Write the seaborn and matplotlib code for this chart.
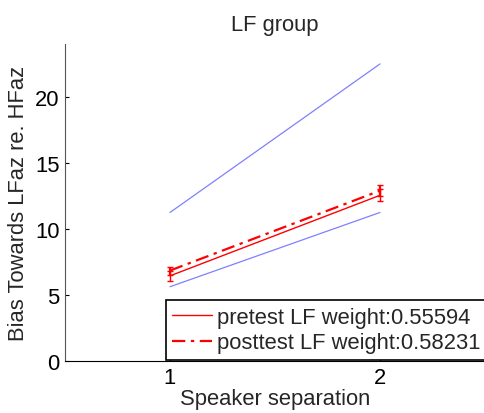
import numpy as np
import matplotlib
matplotlib.use("Agg")
import matplotlib.pyplot as plt
import seaborn as sns

# speaker separation conditions
separation = [1, 2]

# reference lines (upper and lower bound)
upper_ref = [11.25, 22.5]
lower_ref = [5.625, 11.25]

# group means and errors
pre_mean = [6.45, 12.55]
pre_err = [0.40, 0.45]
post_mean = [6.85, 12.90]
post_err = [0.30, 0.40]

pre_label = "pretest LF weight:0.55594"
post_label = "posttest LF weight:0.58231"

sns.set_style("white")
plt.rcParams['font.family'] = ['Liberation Sans', 'DejaVu Sans']
fs = 15.8

fig = plt.figure(figsize=(4.85, 4.14), dpi=100)
ax = fig.add_axes([0.134, 0.1256, 0.866, 0.7654])

ref_blue = (0.5, 0.5, 1.0)
sns.lineplot(x=separation, y=upper_ref, ax=ax, color=ref_blue, lw=0.9)
sns.lineplot(x=separation, y=lower_ref, ax=ax, color=ref_blue, lw=0.9)

pre = ax.errorbar(separation, pre_mean, yerr=pre_err, color='red', lw=1.0,
                  ls='-', capsize=2, elinewidth=1.0, label=pre_label)
post = ax.errorbar(separation, post_mean, yerr=post_err, color='red', lw=1.6,
                   ls=(0, (6, 2.5, 1.5, 2.5)), capsize=2, elinewidth=1.6,
                   label=post_label)

ax.set_xlim(0.5, 2.5)
ax.set_ylim(0, 24)
ax.set_xticks(separation)
ax.set_yticks([0, 5, 10, 15, 20])

for side in ['top', 'right']:
    ax.spines[side].set_visible(False)
ax.spines['left'].set_color('#555555')
ax.spines['bottom'].set_color('black')
ax.spines['left'].set_linewidth(0.8)
ax.spines['bottom'].set_linewidth(0.8)
ax.tick_params(direction='in', length=3, width=0.8, labelsize=fs, colors='black',
               left=True, bottom=True, pad=4)

ax.set_title("LF group", fontsize=fs, pad=10)
ax.set_xlabel("Speaker separation", fontsize=fs, labelpad=0)
ax.set_ylabel("Bias Towards LFaz re. HFaz", fontsize=fs, labelpad=4)

leg = ax.legend(handles=[pre.lines[0], post.lines[0]], labels=[pre_label, post_label],
                loc='lower left', bbox_to_anchor=(0.24, 0.003), fontsize=fs,
                frameon=True, fancybox=False, framealpha=1, edgecolor='black',
                borderpad=0.3, labelspacing=0.2, handlelength=1.8,
                handletextpad=0.25, borderaxespad=0)
leg.get_frame().set_linewidth(1.2)

fig.savefig("out.png", dpi=100)
